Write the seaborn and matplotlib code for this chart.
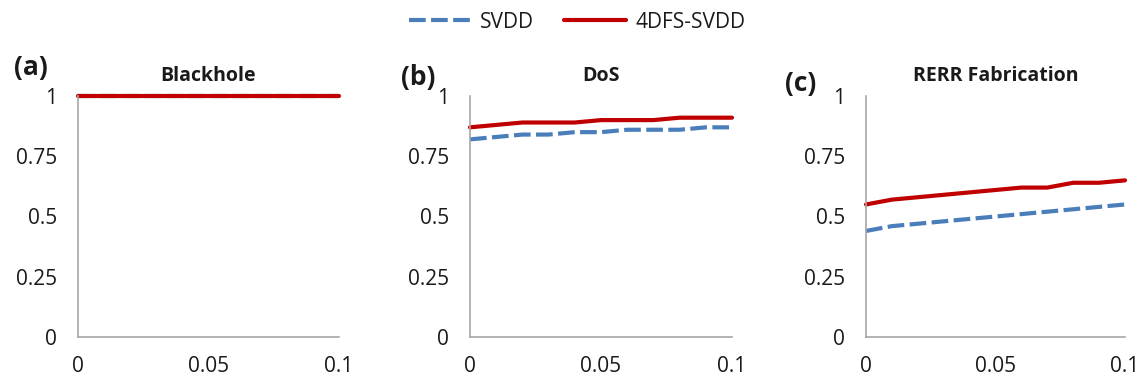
import numpy as np
import pandas as pd
import matplotlib
matplotlib.use("Agg")
import matplotlib.pyplot as plt
import seaborn as sns
from matplotlib.lines import Line2D

# ---- data ----
x_vals = [0.0, 0.01, 0.02, 0.03, 0.04, 0.05, 0.06, 0.07, 0.08, 0.09, 0.1]
blackhole_svdd = [1, 1, 1, 1, 1, 1, 1, 1, 1, 1, 1]
blackhole_4dfs = [1, 1, 1, 1, 1, 1, 1, 1, 1, 1, 1]
dos_svdd = [0.82, 0.83, 0.84, 0.84, 0.85, 0.85, 0.86, 0.86, 0.86, 0.87, 0.87]
dos_4dfs = [0.87, 0.88, 0.89, 0.89, 0.89, 0.90, 0.90, 0.90, 0.91, 0.91, 0.91]
rerr_svdd = [0.44, 0.46, 0.47, 0.48, 0.49, 0.50, 0.51, 0.52, 0.53, 0.54, 0.55]
rerr_4dfs = [0.55, 0.57, 0.58, 0.59, 0.60, 0.61, 0.62, 0.62, 0.64, 0.64, 0.65]
panel_titles = ["Blackhole", "DoS", "RERR Fabrication"]
panel_letters = ["(a)", "(b)", "(c)"]
series_names = ["SVDD", "4DFS-SVDD"]
xticks = [0, 0.05, 0.1]
xtick_labels = ["0", "0.05", "0.1"]
yticks = [0, 0.25, 0.5, 0.75, 1]
ytick_labels = ["0", "0.25", "0.5", "0.75", "1"]

panel_data = [
    (blackhole_svdd, blackhole_4dfs),
    (dos_svdd, dos_4dfs),
    (rerr_svdd, rerr_4dfs),
]

rows = []
for title, (s, f) in zip(panel_titles, panel_data):
    for xv, sv, fv in zip(x_vals, s, f):
        rows.append({"panel": title, "x": xv, "series": "SVDD", "y": sv})
        rows.append({"panel": title, "x": xv, "series": "4DFS-SVDD", "y": fv})
df = pd.DataFrame(rows)

sns.set_theme(style="white")
plt.rcParams["font.family"] = ["Open Sans", "DejaVu Sans"]

BLUE = "#4A7EBB"
RED = "#C00000"
GRAY = "#A6A6A6"
TXT = "#1a1a1a"
DASH = (0, (4.0, 1.3))

fig = plt.figure(figsize=(11.43, 3.86), dpi=100)
W, H = 1143, 386
lefts = [78, 470, 866]
rights = [339, 732, 1125]
top_px, bot_px = 96, 337

letter_pos = [(14, 67), (401, 78), (785, 83)]

for i, title in enumerate(panel_titles):
    l, r = lefts[i], rights[i]
    ax = fig.add_axes([l / W, 1 - bot_px / H, (r - l) / W, (bot_px - top_px) / H])
    sub = df[df.panel == title]
    sns.lineplot(data=sub[sub.series == "SVDD"], x="x", y="y", ax=ax,
                 color=BLUE, linewidth=3, linestyle=DASH, clip_on=False)
    sns.lineplot(data=sub[sub.series == "4DFS-SVDD"], x="x", y="y", ax=ax,
                 color=RED, linewidth=3, clip_on=False)
    ax.set_xlim(0, 0.1)
    ax.set_ylim(0, 1)
    ax.set_xticks(xticks)
    ax.set_xticklabels(xtick_labels)
    ax.set_yticks(yticks)
    ax.set_yticklabels(ytick_labels)
    ax.set_xlabel("")
    ax.set_ylabel("")
    for sp in ["top", "right"]:
        ax.spines[sp].set_visible(False)
    for sp in ["left", "bottom"]:
        ax.spines[sp].set_color(GRAY)
        ax.spines[sp].set_linewidth(1.2)
    ax.tick_params(axis="both", which="both", direction="out", length=7, width=1.2,
                   color=GRAY, labelsize=15, labelcolor=TXT)
    ax.tick_params(axis="y", pad=8)
    ax.tick_params(axis="x", pad=7)
    ax.set_title(title, fontsize=14, fontweight="bold", color=TXT, pad=11)
    if ax.get_legend() is not None:
        ax.get_legend().remove()
    lx, ly = letter_pos[i]
    fig.text(lx / W, 1 - ly / H, panel_letters[i], fontsize=19, fontweight="bold",
             color=TXT, ha="left", va="center")

handles = [Line2D([0], [0], color=BLUE, lw=3, linestyle=DASH),
           Line2D([0], [0], color=RED, lw=3)]
fig.legend(handles, series_names, loc="center", bbox_to_anchor=(577 / W, 1 - 22 / H),
           ncol=2, frameon=False, fontsize=15, handlelength=3.0, handletextpad=0.45,
           columnspacing=1.4, labelcolor=TXT)

fig.savefig("out.png", dpi=100)
